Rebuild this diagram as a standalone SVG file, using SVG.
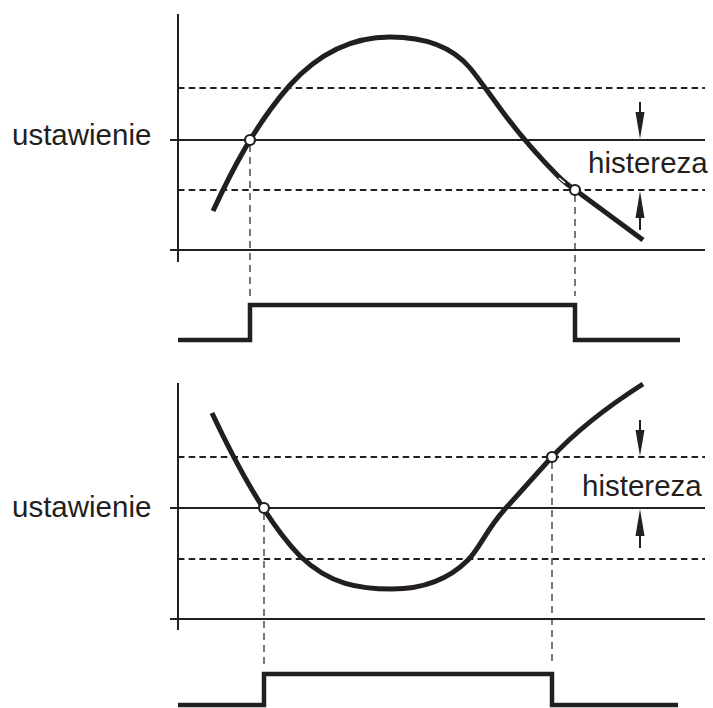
<svg xmlns="http://www.w3.org/2000/svg" width="713" height="708" viewBox="0 0 713 708">
<style>
.ax{stroke:#231f20;stroke-width:2;fill:none}
.dash{stroke:#231f20;stroke-width:2.2;stroke-dasharray:6.5 4.2;fill:none}
.vd{stroke:#231f20;stroke-width:1.2;stroke-dasharray:7 5;fill:none}
.curve{stroke:#231f20;stroke-width:5;fill:none;stroke-linejoin:round}
.pulse{stroke:#231f20;stroke-width:4.5;fill:none;stroke-linejoin:miter}
.pt{fill:#fff;stroke:#231f20;stroke-width:2.2}
.ah{fill:#231f20;stroke:none}
.sh{stroke:#231f20;stroke-width:2}
text{font-family:"Liberation Sans",Arial,sans-serif;font-size:29.5px;fill:#231f20}
</style>
<rect width="713" height="708" fill="#fff"/>
<g id="top-chart">
  <line class="ax" x1="178" y1="14" x2="178" y2="262"/>
  <line class="ax" x1="170" y1="140" x2="705" y2="140"/>
  <line class="ax" x1="170" y1="250" x2="705" y2="250"/>
  <line class="dash" x1="178" y1="88" x2="705" y2="88"/>
  <line class="dash" x1="178" y1="190" x2="705" y2="190"/>
</g>
<g id="top-labels">
  <text x="12" y="145">ustawienie</text>
  <text x="588" y="173">histereza</text>
</g>
<g id="top-arrows">
  <line class="sh" x1="640" y1="102" x2="640" y2="114"/>
  <polygon class="ah" points="635.5,112 644.5,112 640,139"/>
  <line class="sh" x1="640" y1="216" x2="640" y2="230"/>
  <polygon class="ah" points="635.5,218 644.5,218 640,191"/>
</g>
<g id="top-curve">
  <path class="curve" d="M213,211 C232,170 255,125 290,85 C320,52 355,37 390,37 C430,37 455,50 470,68 C480,80 490,95 505,115 C520,135 540,158 558,176 Q566,184 578,192 L643,240"/>
  <line x1="559" y1="178" x2="565" y2="183" stroke="#fff" stroke-width="1.5"/>
</g>
<g id="top-pulse">
  <path class="pulse" d="M178,340 H250 V305 H575 V340 H680"/>
</g>
<g id="connectors">
  <line class="vd" x1="250" y1="145" x2="250" y2="296"/>
  <line class="vd" x1="575" y1="195" x2="575" y2="296"/>
  <line class="vd" x1="264" y1="513" x2="264" y2="665"/>
  <line class="vd" x1="552" y1="462" x2="552" y2="665"/>
</g>
<g id="top-points">
  <circle class="pt" cx="250" cy="140" r="5"/>
  <circle class="pt" cx="575" cy="190" r="5"/>
</g>
<g id="bottom-chart">
  <line class="ax" x1="178" y1="383" x2="178" y2="630"/>
  <line class="ax" x1="170" y1="508" x2="705" y2="508"/>
  <line class="ax" x1="170" y1="619" x2="705" y2="619"/>
  <line class="dash" x1="178" y1="457" x2="705" y2="457"/>
  <line class="dash" x1="178" y1="559" x2="705" y2="559"/>
</g>
<g id="bottom-labels">
  <text x="12" y="517">ustawienie</text>
  <text x="582" y="496">histereza</text>
</g>
<g id="bottom-arrows">
  <line class="sh" x1="640" y1="420" x2="640" y2="432"/>
  <polygon class="ah" points="635.5,430 644.5,430 640,456"/>
  <line class="sh" x1="640" y1="534" x2="640" y2="548"/>
  <polygon class="ah" points="635.5,536 644.5,536 640,509"/>
</g>
<g id="bottom-curve">
  <path class="curve" d="M212,413 C235,462 265,520 300,556 C330,585 360,589 392,589 C425,589 450,578 468,560 C480,548 486,530 505,509 L550,459 C575,432 610,405 643,384"/>
</g>
<g id="bottom-pulse">
  <path class="pulse" d="M178,705 H264 V674 H552 V705 H678"/>
</g>
<g id="bottom-points">
  <circle class="pt" cx="264" cy="508" r="5"/>
  <circle class="pt" cx="552" cy="457" r="5"/>
</g>
</svg>
